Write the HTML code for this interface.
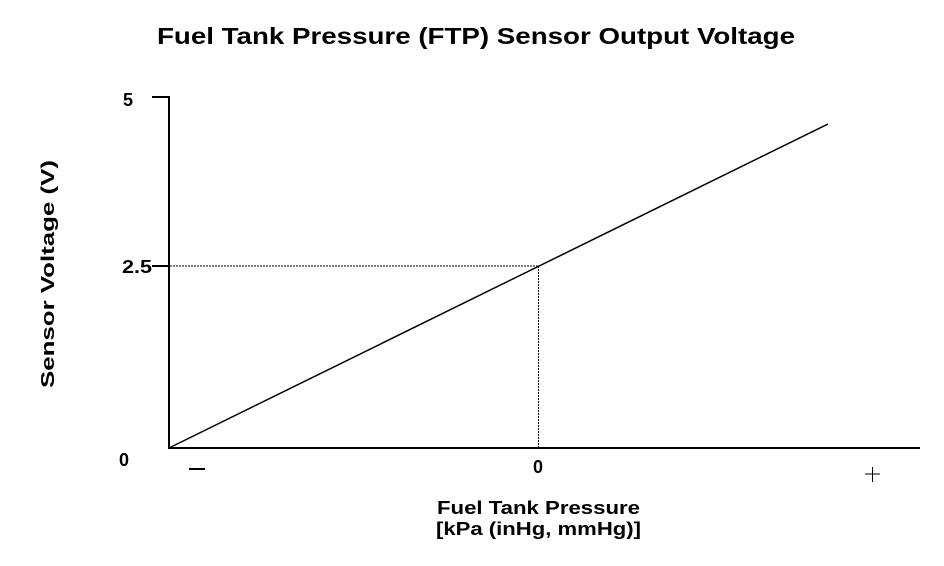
<!DOCTYPE html>
<html><head><style>body{margin:0;background:#fff}svg{display:block}text{font-family:"Liberation Sans",sans-serif;font-weight:bold;fill:#000}</style></head>
<body><svg width="944" height="566" viewBox="0 0 944 566">
<text x="157" y="44" font-size="23" textLength="638" lengthAdjust="spacingAndGlyphs">Fuel Tank Pressure (FTP) Sensor Output Voltage</text>
<line x1="169" y1="96" x2="169" y2="449" stroke="#000" stroke-width="2"/>
<line x1="152" y1="97" x2="170" y2="97" stroke="#000" stroke-width="2"/>
<line x1="152" y1="266" x2="169" y2="266" stroke="#000" stroke-width="2"/>
<line x1="168" y1="448" x2="920" y2="448" stroke="#000" stroke-width="2"/>
<line x1="170" y1="266" x2="538" y2="266" stroke="#000" stroke-width="1" stroke-dasharray="2,1"/>
<line x1="538.5" y1="266" x2="538.5" y2="448" stroke="#000" stroke-width="1" stroke-dasharray="2,1"/>
<line x1="169" y1="448" x2="828" y2="124" stroke="#000" stroke-width="1.5"/>
<text x="128" y="106" font-size="18" text-anchor="middle">5</text>
<text x="122" y="273" font-size="18" textLength="30" lengthAdjust="spacingAndGlyphs">2.5</text>
<text x="124" y="466" font-size="18" text-anchor="middle">0</text>
<text x="538" y="473" font-size="18" text-anchor="middle">0</text>
<line x1="189" y1="469" x2="205" y2="469" stroke="#000" stroke-width="2"/>
<line x1="865" y1="474" x2="880" y2="474" stroke="#000" stroke-width="1"/>
<line x1="872.5" y1="467" x2="872.5" y2="482" stroke="#000" stroke-width="1"/>
<text x="437" y="514" font-size="18" textLength="203" lengthAdjust="spacingAndGlyphs">Fuel Tank Pressure</text>
<text x="436" y="535" font-size="18" textLength="205" lengthAdjust="spacingAndGlyphs">[kPa (inHg, mmHg)]</text>
<text transform="translate(54,388) rotate(-90)" font-size="18" textLength="228" lengthAdjust="spacingAndGlyphs">Sensor Voltage (V)</text>
</svg></body></html>
